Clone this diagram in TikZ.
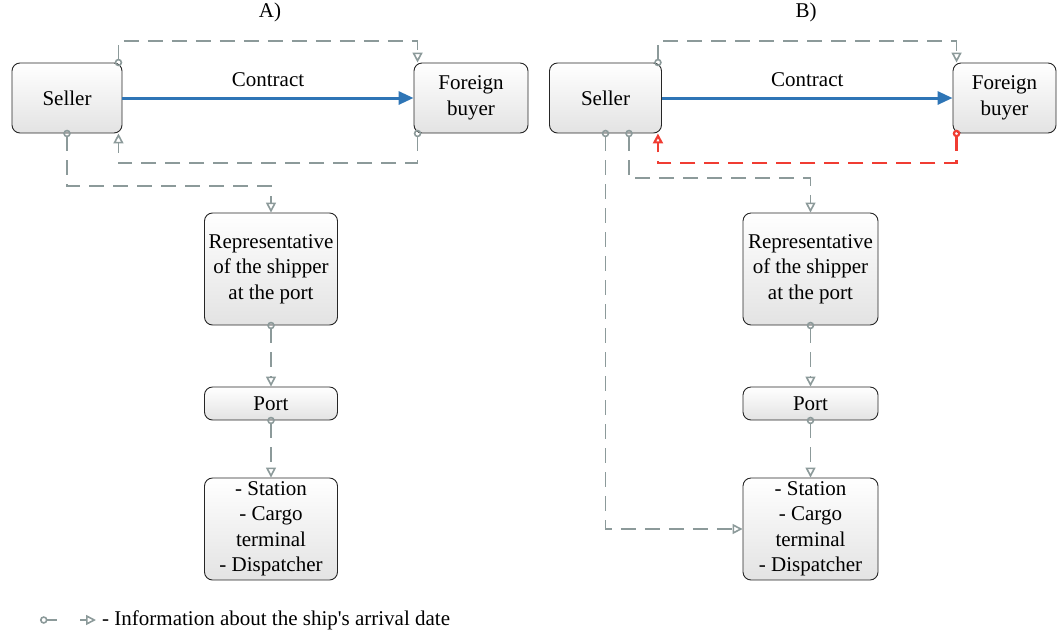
\documentclass[tikz,border=0pt]{standalone}
\usepackage{fontspec}
\setmainfont{Liberation Serif}
\usetikzlibrary{arrows.meta,positioning}
\definecolor{infogray}{HTML}{8C9A9A}
\definecolor{contractblue}{HTML}{2E75B6}
\definecolor{alertred}{HTML}{F03C32}

\tikzset{
  box/.style={draw=black!85, line width=0.9pt, rounded corners=8pt,
    top color=white, bottom color=gray!22, align=center, inner sep=2pt},
  info/.style={draw=infogray, line width=1.6pt, dash pattern=on 15pt off 9pt,
    {Circle[open,length=7.5pt,width=7.5pt]}-{Triangle[open,length=10pt,width=10pt]},
    shorten <=-3.7pt},
  redinfo/.style={info, draw=alertred, line width=2.2pt},
  contract/.style={draw=contractblue, line width=3pt,
    -{Triangle[length=15pt,width=13pt]}},
}

\begin{document}
\begin{tikzpicture}[x=1pt, y=-1pt, font=\fontsize{21}{25.5}\selectfont]
\useasboundingbox (0,0) rectangle (1058,630);

% A) - left scheme
\begin{scope}
\node (labA) at (270,12) {A)};
\node[box, minimum width=110pt, minimum height=70pt] (sA) at (67,98) {Seller};
\node[box, minimum width=114pt, minimum height=70pt] (bA) at (471,98) {Foreign\\buyer};
\node[box, minimum width=133pt, minimum height=112pt] (rA) at (271,269) {Representative\\of the shipper\\at the port};
\node[box, minimum width=133pt, minimum height=33pt] (pA) at (271,403.5) {Port};
\node[box, minimum width=133pt, minimum height=102pt] (tA) at (271,529) {- Station\\- Cargo\\terminal\\- Dispatcher};
\coordinate (topA) at (270,41);
\coordinate (botA) at (270,163);
\coordinate (midA) at (170,186);
\draw[contract] (sA) -- node[above=6pt] {Contract} (bA);
\draw[info] ([xshift=-4pt]sA.north east) |- (topA) -| ([xshift=4pt]bA.north west);
\draw[info] ([xshift=4pt]bA.south west) |- (botA) -| ([xshift=-4pt]sA.south east);
\draw[info] (sA.south) |- (midA) -| (rA.north);
\draw[info] (rA.south) -- (pA.north);
\draw[info] (pA.south) -- (tA.north);
\end{scope}

% B) - right scheme
\begin{scope}[shift={(538,0)}]
\node (labB) at (268,12) {B)};
\node[box, minimum width=112pt, minimum height=70pt] (sB) at (67.5,98) {Seller};
\node[box, minimum width=103pt, minimum height=70pt] (bB) at (466.5,98) {Foreign\\buyer};
\node[box, minimum width=135pt, minimum height=112pt] (rB) at (272.5,269) {Representative\\of the shipper\\at the port};
\node[box, minimum width=135pt, minimum height=33pt] (pB) at (272.5,403.5) {Port};
\node[box, minimum width=135pt, minimum height=102pt] (tB) at (272.5,529) {- Station\\- Cargo\\terminal\\- Dispatcher};
\coordinate (topB) at (270,41);
\coordinate (botB) at (270,163);
\coordinate (midB) at (170,178);
\draw[contract] (sB) -- node[above=6pt] {Contract} (bB);
\draw[info] ([xshift=-4pt]sB.north east) |- (topB) -| ([xshift=4pt]bB.north west);
\draw[redinfo] ([xshift=4pt]bB.south west) |- (botB) -| ([xshift=-4pt]sB.south east);
\draw[info] ([xshift=23.5pt]sB.south) |- (midB) -| (rB.north);
\draw[info] (sB.south) |- (tB.west);
\draw[info] (rB.south) -- (pB.north);
\draw[info] (pB.south) -- (tB.north);
\end{scope}

% legend
\coordinate (lg1) at (40,620);
\coordinate (lg2) at (57,620);
\coordinate (lg3) at (80,620);
\coordinate (lg4) at (96,620);
\draw[infogray, line width=1.6pt, {Circle[open,length=7.5pt,width=7.5pt]}-] (lg1) -- (lg2);
\draw[infogray, line width=1.6pt, -{Triangle[open,length=10pt,width=10pt]}] (lg3) -- (lg4);
\node[anchor=west, inner sep=0pt] (lgtext) at (102,620) {- Information about the ship\textquotesingle s arrival date};
\end{tikzpicture}
\end{document}
